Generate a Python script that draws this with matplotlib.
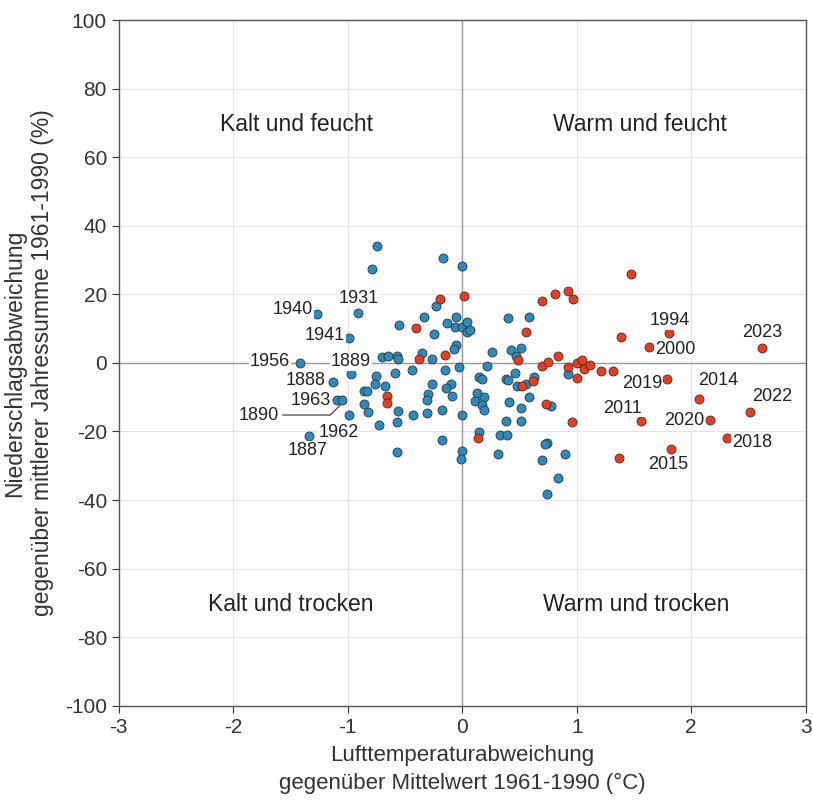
import matplotlib.pyplot as plt

plt.rcParams['font.family'] = ['Liberation Sans', 'DejaVu Sans']
plt.rcParams['axes.unicode_minus'] = False

# years up to ~1981 (blue)
blue_temp = [-0.74, -0.79, -1.27, -0.91, -0.99, -1.42, -0.70, -0.65, -0.57, -0.56,
             -0.55, -1.13, -1.09, -1.05, -0.99, -1.34, -0.97, -0.75, -0.76, -0.67,
             -0.86, -0.83, -0.86, -0.82, -0.73, -0.59, -0.56, -0.57, -0.57, -0.17,
             0.00, -0.23, -0.33, -0.25, -0.13, -0.05, -0.06, 0.00, 0.04, 0.04,
             0.07, -0.05, -0.07, -0.03, -0.35, -0.26, -0.44, -0.15, -0.26, -0.10,
             -0.14, -0.09, -0.30, -0.31, -0.43, -0.31, -0.18, 0.00, -0.18, 0.00,
             -0.01, 0.26, 0.43, 0.51, 0.47, 0.22, 0.92, 0.46, 0.15, 0.17,
             0.38, 0.40, 0.63, 0.56, 0.48, 0.13, 0.19, 0.11, 0.17, 0.19,
             0.41, 0.58, 0.51, 0.78, 0.38, 0.51, 0.15, 0.33, 0.39, 0.31,
             0.70, 0.74, 0.72, 0.90, 0.84, 0.74, 0.40, 0.58]
blue_prec = [34.1, 27.4, 14.3, 14.6, 7.3, 0.0, 1.7, 2.0, 2.0, 1.2,
             11.1, -5.5, -10.8, -10.8, -15.2, -21.3, -3.2, -3.8, -6.1, -6.7,
             -8.2, -8.2, -12.0, -14.3, -18.1, -2.9, -14.0, -17.2, -25.9, 30.6,
             28.3, 16.6, 13.4, 8.5, 11.7, 13.4, 10.5, 10.5, 12.0, 9.0,
             9.6, 5.2, 4.1, -1.2, 2.9, 1.2, -2.0, -2.0, -6.1, -6.1,
             -7.3, -9.6, -9.0, -10.8, -15.2, -14.6, -13.7, -15.2, -22.4, -25.7,
             -28.0, 3.2, 3.8, 4.4, 2.0, -0.9, -3.2, -2.9, -4.1, -4.7,
             -4.7, -5.0, -4.1, -6.1, -6.7, -8.7, -9.9, -11.1, -12.2, -13.7,
             -11.4, -9.9, -13.1, -12.5, -16.9, -16.9, -20.1, -21.0, -21.0, -26.5,
             -28.3, -23.3, -23.6, -26.5, -33.5, -38.2, 13.1, 13.4]

# recent years (red)
red_temp = [-0.19, 0.02, -0.40, -0.38, -0.15, -0.66, -0.66, 1.47, 0.70, 0.81,
            0.92, 0.97, 0.56, 1.39, 0.49, 0.70, 0.75, 0.84, 0.92, 1.00,
            1.00, 1.05, 1.06, 1.12, 1.21, 1.32, 0.62, 0.52, 0.73, 0.96,
            0.14, 1.37, 1.81, 1.63, 2.62, 1.79, 2.07, 2.51, 1.56, 2.16,
            2.31, 1.82]
red_prec = [18.7, 19.5, 10.2, 1.2, 2.3, -9.6, -11.7, 25.9, 18.1, 20.1,
            21.0, 18.7, 9.0, 7.6, 0.9, -0.9, 0.3, 2.0, -1.2, -4.4,
            0.0, 0.9, -1.7, -0.6, -2.3, -2.3, -5.2, -6.7, -12.0, -17.2,
            -21.9, -27.7, 8.7, 4.7, 4.4, -4.7, -10.5, -14.3, -16.9, -16.6,
            -21.9, -25.1]

# labelled years and where their text sits
year_labels = ['1940', '1931', '1941', '1956', '1889', '1888', '1963', '1962', '1887',
               '1994', '2000', '2023', '2019', '2014', '2022', '2011', '2020', '2018', '2015']
year_txt = [(-1.48, 15.6), (-0.90, 18.8), (-1.20, 8.0), (-1.68, 0.3), (-0.97, 0.3),
            (-1.37, -5.2), (-1.32, -11.1), (-1.08, -20.2), (-1.35, -25.6),
            (1.81, 12.3), (1.86, 3.8), (2.62, 8.8), (1.57, -5.9), (2.24, -5.0),
            (2.71, -9.7), (1.40, -13.2), (1.94, -16.7), (2.53, -23.1), (1.80, -29.5)]

quadrants = ['Kalt und feucht', 'Warm und feucht', 'Kalt und trocken', 'Warm und trocken']
quad_pos = [(-1.45, 69.5), (1.55, 69.5), (-1.5, -70.5), (1.52, -70.5)]

fig = plt.figure(figsize=(8.13, 8.02), dpi=100)
ax = fig.add_axes([0.146, 0.12, 0.845, 0.855])

ax.set_xlim(-3, 3)
ax.set_ylim(-100, 100)
ax.set_xticks(range(-3, 4))
ax.set_yticks(range(-100, 101, 20))
ax.grid(True, color='#e3e3e3', linewidth=0.8)
ax.set_axisbelow(True)
ax.axhline(0, color='#999999', linewidth=1.0, zorder=1)
ax.axvline(0, color='#999999', linewidth=1.0, zorder=1)
for s in ax.spines.values():
    s.set_color('#555555')
    s.set_linewidth(1.0)
ax.tick_params(colors='#333333', labelsize=15, length=5, width=0.8)

ax.scatter(blue_temp, blue_prec, s=42, color='#2a8bc0', edgecolor='#333333',
           linewidth=0.6, zorder=3)
ax.scatter(red_temp, red_prec, s=42, color='#ee3b20', edgecolor='#333333',
           linewidth=0.6, zorder=3)

for lab, (tx, ty) in zip(year_labels, year_txt):
    ax.text(tx, ty, lab, fontsize=13, color='#222222', ha='center', va='center',
            zorder=4, bbox=dict(facecolor='white', edgecolor='none', pad=0.5))

# 1890 sits right next to 1963, so it gets a leader line
ax.annotate('1890', xy=(-1.05, -11.8), xytext=(-1.78, -15.2), fontsize=13,
            color='#222222', ha='center', va='center', zorder=4,
            arrowprops=dict(arrowstyle='-', color='#555555', lw=1.0, shrinkA=1, shrinkB=1,
                            connectionstyle='angle,angleA=0,angleB=45,rad=0'))

for q, (qx, qy) in zip(quadrants, quad_pos):
    ax.text(qx, qy, q, fontsize=16.5, color='#222222', ha='center', va='center')

ax.set_xlabel('Lufttemperaturabweichung\ngegenüber Mittelwert 1961-1990 (°C)',
              fontsize=16, color='#333333', labelpad=6, linespacing=1.45)
ax.set_ylabel('Niederschlagsabweichung\ngegenüber mittlerer Jahressumme 1961-1990 (%)',
              fontsize=16.5, color='#333333', labelpad=8, linespacing=1.25)

fig.savefig('out.png', dpi=100)
